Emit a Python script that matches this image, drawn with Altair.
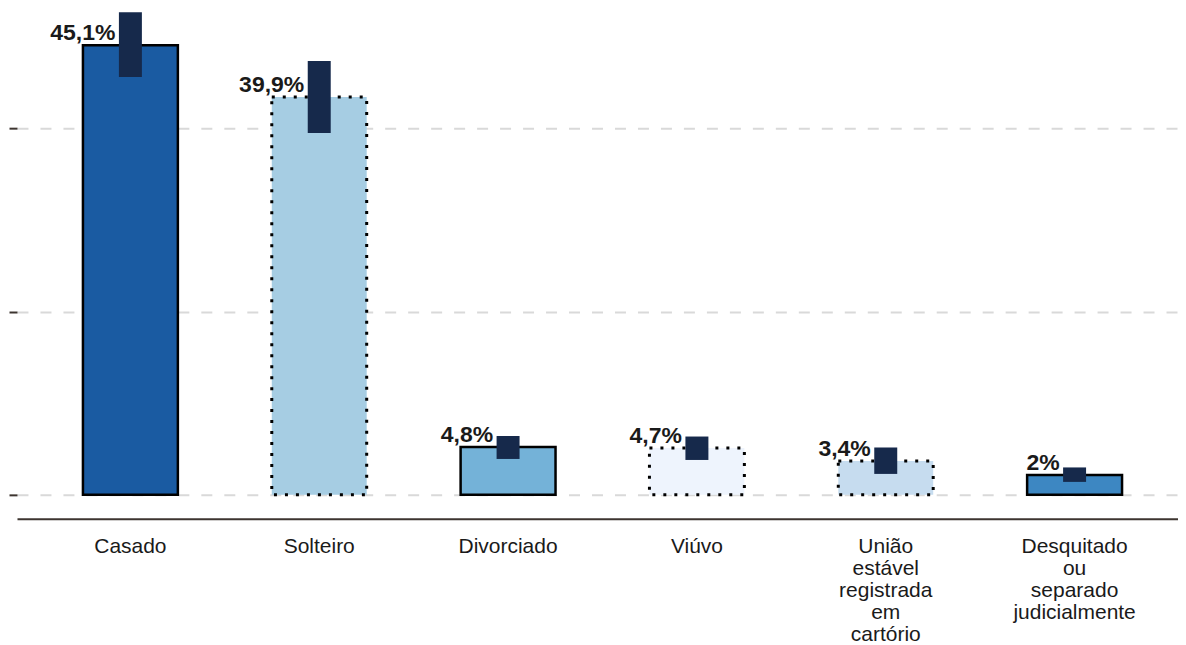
import altair as alt
import pandas as pd

categories = ["Casado", "Solteiro", "Divorciado", "Viúvo",
              "União estável registrada em cartório",
              "Desquitado ou separado judicialmente"]
values = [45.1, 39.9, 4.8, 4.7, 3.4, 2.0]
labels = ["45,1%", "39,9%", "4,8%", "4,7%", "3,4%", "2%"]
ci_low = [41.9, 36.3, 3.6, 3.5, 2.1, 1.3]
ci_high = [48.4, 43.5, 5.9, 5.85, 4.75, 2.75]
fills = ["#1a5ba2", "#a6cde3", "#74b2d8", "#eef4fd", "#c6dcef", "#3d87c2"]
dotted = [False, True, False, True, True, False]
grid_ticks = [0, 18.35, 36.75]

df = pd.DataFrame({
    "cat": categories, "val": values, "lab": labels,
    "lo": ci_low, "hi": ci_high, "fill": fills, "dotted": dotted,
})

xenc = alt.X("cat:N", sort=categories, title=None,
             scale=alt.Scale(domain=categories, paddingInner=0.497,
                             paddingOuter=0.3226, align=0.541),
             axis=alt.Axis(labelAngle=0, ticks=False, domain=True,
                           domainColor="#3d3530", domainWidth=2, offset=24,
                           labelPadding=17, labelFont="Liberation Sans",
                           labelFontSize=21, labelColor="#1a1a1a",
                           labelLineHeight=22, labelLimit=300,
                           labelExpr="split(datum.value, ' ')", grid=False))
yscale = alt.Scale(domain=[0, 48.8], nice=False, zero=True)
yenc = alt.Y("val:Q", scale=yscale, title=None,
             axis=alt.Axis(values=grid_ticks, labels=False, domain=False,
                           tickSize=8, tickColor="#3d3530", tickWidth=2,
                           grid=True, gridColor="#d9d9d9", gridWidth=2,
                           gridDash=[11, 12]))

solid = alt.Chart(df).transform_filter("!datum.dotted").mark_bar(
    size=95, stroke="black", strokeWidth=2.5
).encode(x=xenc, y=yenc, fill=alt.Fill("fill:N", scale=None))

dot = alt.Chart(df).transform_filter("datum.dotted").mark_bar(
    size=95, stroke="black", strokeWidth=3, strokeDash=[3, 8]
).encode(x=xenc, y=yenc, fill=alt.Fill("fill:N", scale=None))

ci = alt.Chart(df).mark_bar(size=23, color="#16294b").encode(
    x=xenc, y=alt.Y("lo:Q", scale=yscale), y2="hi:Q")

txt = alt.Chart(df).mark_text(
    align="right", baseline="alphabetic", dx=-15, dy=-5,
    font="Liberation Sans", fontSize=23, fontWeight="bold", color="#1a1a1a"
).encode(x=xenc, y=alt.Y("val:Q", scale=yscale), text="lab:N")

chart = alt.layer(solid, dot, ci, txt).properties(
    width=1162, height=487, padding=0
).configure_view(stroke=None)

chart.save("out.html", embed_options={"renderer": "svg", "actions": False})
